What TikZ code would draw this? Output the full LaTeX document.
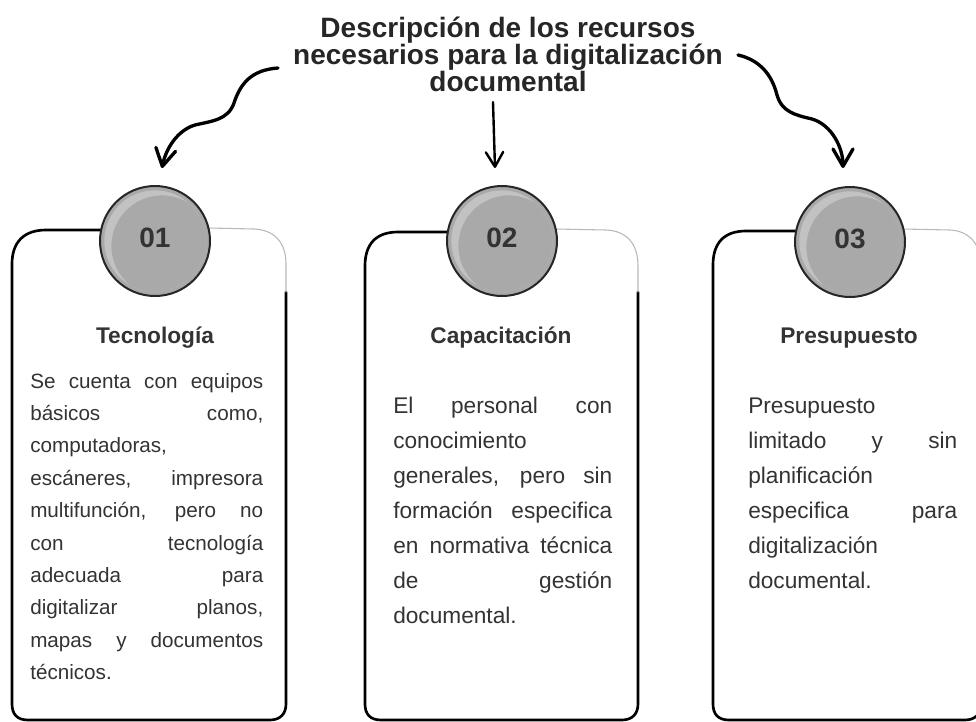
\documentclass[tikz,border=0pt]{standalone}
\usepackage{fontspec}
\setmainfont{Liberation Sans}
\usetikzlibrary{arrows.meta}
\definecolor{ink}{HTML}{262626}
\definecolor{txt}{HTML}{333333}
\definecolor{discfill}{HTML}{A9A9A9}
\definecolor{dischi}{HTML}{C2C2C2}
\definecolor{faint}{HTML}{B8B8B8}
\newcommand\jline[1]{\makebox[\linewidth][s]{#1}}
\newcommand\lline[1]{\makebox[\linewidth][l]{#1}}
\begin{document}
\begin{tikzpicture}[x=0.75pt,y=-0.75pt,
  edge/.style={line width=2pt, black, line cap=round, line join=round},
  faintedge/.style={line width=0.8pt, faint, line cap=round},
  wavy/.style={line width=2.5pt, line cap=round, -{Straight Barb[length=13pt,width=15pt,round]}},
  straightarrow/.style={line width=1.8pt, line cap=round, -{Straight Barb[length=11pt,width=13pt,round]}},
  disc/.style={circle, draw=ink, line width=1.5pt, fill=discfill, minimum size=82.5pt, inner sep=0pt},
  num/.style={font=\fontsize{21}{21}\selectfont\bfseries, text=txt, anchor=base, inner sep=0pt},
  head/.style={font=\fontsize{17}{20}\selectfont\bfseries, text=txt, anchor=base, inner sep=0pt},
  body/.style={anchor=base west, inner sep=0pt, text=txt}]
\useasboundingbox (0,0) rectangle (976,722);

% title
\node[anchor=base, inner sep=0pt, text=ink] (title) at (508,37)
  {\parbox[t]{420pt}{\centering\fontsize{21}{20.25}\selectfont\bfseries
   Descripción de los recursos\\
   necesarios para la digitalización\\
   documental}};

% boxes
\draw[edge] (101,230) -- (46,230) .. controls (24,230) and (12,242) .. (12,264) -- (12,704)
  .. controls (12,714) and (17,720) .. (28,720) -- (270,720) .. controls (280,720) and (286,714) .. (286,704) -- (286,292);
\draw[faintedge] (209,228) -- (254,229) .. controls (276,230) and (286,244) .. (286,264) -- (286,292);

\draw[edge] (448,232) -- (398,232) .. controls (376,232) and (365,244) .. (365,266) -- (365,704)
  .. controls (365,714) and (370,720) .. (381,720) -- (622,720) .. controls (632,720) and (638,714) .. (638,704) -- (638,292);
\draw[faintedge] (556,229) -- (606,230) .. controls (628,231) and (638,245) .. (638,266) -- (638,292);

\draw[edge] (796,231) -- (746,231) .. controls (724,231) and (713,243) .. (713,265) -- (713,704)
  .. controls (713,714) and (718,720) .. (729,720) -- (965,720) .. controls (975,720) and (981,714) .. (981,704) -- (981,292);
\draw[faintedge] (903,229) -- (950,230) .. controls (970,231) and (981,245) .. (981,266) -- (981,292);

% discs
\node[disc] (c1) at (155,241) {};
\node[disc] (c2) at (502,241) {};
\node[disc] (c3) at (850,242) {};
\foreach \cx/\cy in {155/241, 502/241, 850/242}{
  \begin{scope}
    \clip (\cx,\cy) circle[radius=38pt];
    \fill[dischi, even odd rule] (\cx,\cy) circle[radius=38pt] (\cx+7,\cy+5) circle[radius=38pt];
  \end{scope}
}
\node[num] (n1) at (155,247) {01};
\node[num] (n2) at (502,247) {02};
\node[num] (n3) at (850,248) {03};

% headings
\node[head] (h1) at (155,343) {Tecnología};
\node[head] (h2) at (501,343) {Capacitación};
\node[head] (h3) at (849,343) {Presupuesto};

% bodies
\node[body] (b1) at (30,388) {\parbox[t]{174.75pt}{\fontsize{15.5}{24.3}\selectfont
  \jline{Se cuenta con equipos}\\
  \jline{básicos como,}\\
  \lline{computadoras,}\\
  \jline{escáneres, impresora}\\
  \jline{multifunción, pero no}\\
  \jline{con tecnología}\\
  \jline{adecuada para}\\
  \jline{digitalizar planos,}\\
  \jline{mapas y documentos}\\
  \lline{técnicos.}}};
\node[body] (b2) at (393,413) {\parbox[t]{164.25pt}{\fontsize{17}{26.25}\selectfont
  \jline{El personal con}\\
  \lline{conocimiento}\\
  \jline{generales, pero sin}\\
  \jline{formación especifica}\\
  \jline{en normativa técnica}\\
  \jline{de gestión}\\
  \lline{documental.}}};
\node[body] (b3) at (748,413) {\parbox[t]{156.75pt}{\fontsize{17}{26.25}\selectfont
  \lline{Presupuesto}\\
  \jline{limitado y sin}\\
  \lline{planificación}\\
  \jline{especifica para}\\
  \lline{digitalización}\\
  \lline{documental.}}};

% arrows
\coordinate (s1) at (278,68);  \coordinate (e1) at (162,168);
\coordinate (s2) at (493,102); \coordinate (e2) at (495,168);
\coordinate (s3) at (738,55);  \coordinate (e3) at (843,168);
\draw[wavy] (s1) .. controls (250,70) and (240,85) .. (234,103)
  .. controls (228,120) and (212,121) .. (195,125)
  .. controls (178,130) and (166,148) .. (e1);
\draw[straightarrow] (s2) -- (e2);
\draw[wavy] (s3) .. controls (760,60) and (772,75) .. (777,95)
  .. controls (782,112) and (795,115) .. (812,119)
  .. controls (832,125) and (843,148) .. (e3);
\end{tikzpicture}
\end{document}
